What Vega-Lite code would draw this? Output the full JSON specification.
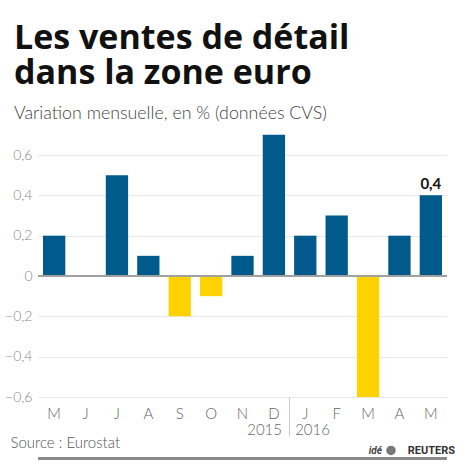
{
  "$schema": "https://vega.github.io/schema/vega-lite/v6.json",
  "width": 409,
  "height": 242,
  "autosize": {"type": "none"},
  "padding": {"left": 38, "top": 155, "right": 21, "bottom": 67},
  "background": "white",
  "config": {
    "view": {"stroke": null},
    "font": "Lato",
    "locale": {
      "number": {"decimal": ",", "thousands": " ", "grouping": [3], "currency": ["", " €"]}
    }
  },
  "title": {
    "text": ["Les ventes de détail", "dans la zone euro"],
    "subtitle": "Variation mensuelle, en % (données CVS)",
    "anchor": "start",
    "frame": "group",
    "dx": -24,
    "offset": 12,
    "font": "Open Sans",
    "fontSize": 34,
    "fontWeight": "bold",
    "lineHeight": 35,
    "color": "#111111",
    "subtitleFont": "Lato",
    "subtitleFontSize": 17.8,
    "subtitleFontWeight": 300,
    "subtitleColor": "#444444",
    "subtitlePadding": 14
  },
  "data": {
    "values": [
      {"mois": "M-2015-05", "v": 0.2},
      {"mois": "J-2015-06", "v": 0.0},
      {"mois": "J-2015-07", "v": 0.5},
      {"mois": "A-2015-08", "v": 0.1},
      {"mois": "S-2015-09", "v": -0.2},
      {"mois": "O-2015-10", "v": -0.1},
      {"mois": "N-2015-11", "v": 0.1},
      {"mois": "D-2015-12", "v": 0.7, "annee": "2015"},
      {"mois": "J-2016-01", "v": 0.2, "annee": "2016"},
      {"mois": "F-2016-02", "v": 0.3},
      {"mois": "M-2016-03", "v": -0.6},
      {"mois": "A-2016-04", "v": 0.2},
      {"mois": "M-2016-05", "v": 0.4, "dernier": true}
    ]
  },
  "layer": [
    {
      "mark": {"type": "bar"},
      "encoding": {
        "x": {
          "field": "mois",
          "type": "nominal",
          "sort": null,
          "scale": {"paddingInner": 0.29, "paddingOuter": 0.16},
          "axis": {
            "labelExpr": "substring(datum.value, 0, 1)",
            "labelAngle": 0,
            "labelFont": "Lato",
            "labelFontSize": 15,
            "labelFontWeight": 300,
            "labelColor": "#666666",
            "labelPadding": 9,
            "ticks": false,
            "domain": false,
            "title": "Source : Eurostat",
            "titleFont": "Lato",
            "titleFontSize": 15,
            "titleFontWeight": 300,
            "titleColor": "#555555",
            "titleAnchor": "start",
            "titleAlign": "left",
            "titleBaseline": "alphabetic",
            "titleX": -28,
            "titleY": 50
          }
        },
        "y": {
          "field": "v",
          "type": "quantitative",
          "scale": {"domain": [-0.6, 0.6], "nice": false, "zero": false},
          "axis": {
            "values": [-0.6, -0.4, -0.2, 0, 0.2, 0.4, 0.6],
            "format": ".1f",
            "labelExpr": "datum.value == 0 ? '0' : datum.label",
            "labelFont": "Lato",
            "labelFontSize": 14,
            "labelFontWeight": 300,
            "labelColor": "#888888",
            "labelPadding": 6,
            "ticks": false,
            "domain": false,
            "grid": true,
            "gridColor": "#e8e8e8",
            "gridWidth": 1,
            "title": null
          }
        },
        "color": {
          "condition": {"test": "datum.v < 0", "value": "#ffd200"},
          "value": "#005a8c"
        }
      }
    },
    {
      "mark": {"type": "rule", "color": "#a0a0a0", "strokeWidth": 1},
      "encoding": {"y": {"datum": 0}}
    },
    {
      "transform": [{"filter": "datum.dernier"}],
      "mark": {"type": "text", "font": "Lato", "fontSize": 15, "fontWeight": "bold", "color": "#111111", "baseline": "bottom", "dy": -3},
      "encoding": {
        "x": {"field": "mois", "type": "nominal", "sort": null, "bandPosition": 0.5},
        "y": {"field": "v", "type": "quantitative"},
        "text": {"field": "v", "type": "quantitative", "format": ".1f"}
      }
    },
    {
      "transform": [{"filter": "datum.annee == '2016'"}],
      "mark": {"type": "rule", "color": "#cccccc", "strokeWidth": 1, "xOffset": -4.6},
      "encoding": {
        "x": {"field": "mois", "type": "nominal", "sort": null, "bandPosition": 0},
        "y": {"datum": -0.6},
        "y2": {"datum": -0.795}
      }
    },
    {
      "transform": [{"filter": "datum.annee == '2015'"}],
      "mark": {"type": "text", "font": "Lato", "fontSize": 15, "fontWeight": 300, "color": "#666666", "align": "right", "baseline": "alphabetic", "dx": -3},
      "encoding": {
        "x": {"field": "mois", "type": "nominal", "sort": null, "bandPosition": 1},
        "y": {"datum": -0.788},
        "text": {"field": "annee"}
      }
    },
    {
      "transform": [{"filter": "datum.annee == '2016'"}],
      "mark": {"type": "text", "font": "Lato", "fontSize": 15, "fontWeight": 300, "color": "#666666", "align": "left", "baseline": "alphabetic", "dx": 1},
      "encoding": {
        "x": {"field": "mois", "type": "nominal", "sort": null, "bandPosition": 0},
        "y": {"datum": -0.788},
        "text": {"field": "annee"}
      }
    },
    {
      "transform": [{"filter": "datum.dernier"}],
      "mark": {"type": "text", "font": "Roboto", "fontSize": 11, "fontWeight": "bold", "color": "#333333", "align": "right", "baseline": "alphabetic", "dx": 13},
      "encoding": {
        "x": {"field": "mois", "type": "nominal", "sort": null, "bandPosition": 1},
        "y": {"datum": -0.885},
        "text": {"value": "REUTERS"}
      }
    },
    {
      "transform": [{"filter": "datum.dernier"}],
      "mark": {"type": "point", "shape": "circle", "filled": true, "size": 90, "color": "#777777", "opacity": 1, "xOffset": -51},
      "encoding": {
        "x": {"field": "mois", "type": "nominal", "sort": null, "bandPosition": 1},
        "y": {"datum": -0.865}
      }
    },
    {
      "transform": [{"filter": "datum.dernier"}],
      "mark": {"type": "text", "font": "Roboto", "fontSize": 10, "fontWeight": "bold", "fontStyle": "italic", "color": "#444444", "align": "right", "baseline": "alphabetic", "dx": -60},
      "encoding": {
        "x": {"field": "mois", "type": "nominal", "sort": null, "bandPosition": 1},
        "y": {"datum": -0.885},
        "text": {"value": "idé"}
      }
    },
    {
      "mark": {"type": "rule", "color": "#8a8a8a", "strokeWidth": 2},
      "encoding": {"y": {"datum": -0.905}}
    }
  ]
}
